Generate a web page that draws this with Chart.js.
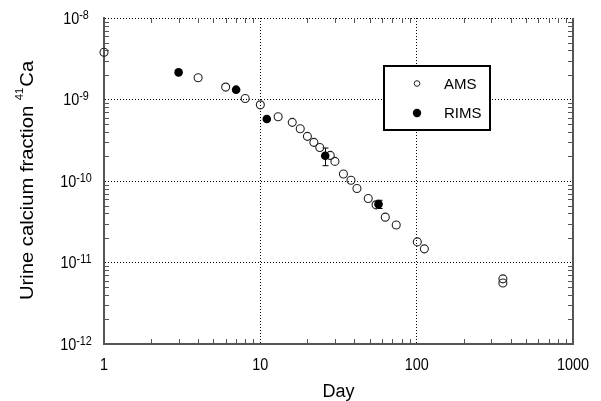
<!DOCTYPE html>
<html><head><meta charset="utf-8">
<script src="https://cdn.jsdelivr.net/npm/chart.js@4"></script>
<style>html,body{margin:0;padding:0;background:#fff;}#wrap{width:601px;height:401px;}</style>
</head><body><div id="wrap"><canvas id="c" width="601" height="401"></canvas></div>
<script>
// ---- data ----
const amsDays = [1, 4, 6, 8, 10, 13, 16, 18, 20, 22, 24, 28, 30, 34, 38, 41.5, 49, 55, 63, 74, 101, 112, 356, 356];
const amsFraction = [3.8e-9, 1.85e-9, 1.42e-9, 1.03e-9, 8.6e-10, 6.15e-10, 5.24e-10, 4.38e-10, 3.53e-10, 2.98e-10, 2.58e-10, 2.06e-10, 1.74e-10, 1.22e-10, 1.02e-10, 8.1e-11, 6.1e-11, 5.1e-11, 3.6e-11, 2.88e-11, 1.79e-11, 1.47e-11, 6.3e-12, 5.6e-12];
const rimsDays = [3, 7, 11, 26, 57];
const rimsFraction = [2.15e-9, 1.32e-9, 5.77e-10, 2.04e-10, 5.2e-11];
const rimsError = [0, 0, 0, 0.5e-10, 0.6e-11];
const seriesNames = ['AMS', 'RIMS'];
const xTickValues = [1, 10, 100, 1000];
const xTickLabels = ['1', '10', '100', '1000'];
const yTickValues = [1e-12, 1e-11, 1e-10, 1e-9, 1e-8];
const yTickBase = '10';
const yTickExponents = ['-12', '-11', '-10', '-9', '-8'];
const minorMultipliers = [2, 3, 4, 5, 6, 7, 8, 9];
const xTitle = 'Day';
const yTitleMain = 'Urine calcium fraction ';
const yTitleSup = '41';
const yTitleEnd = 'Ca';

const FONT = '"Liberation Sans", Arial, sans-serif';
const AXIS = '#555';

function drawText(ctx, s, x, y, size, align, sx) {
  ctx.save();
  ctx.translate(x, y);
  ctx.scale(sx || 1, 1);
  ctx.font = size + 'px ' + FONT;
  ctx.textAlign = align || 'left';
  ctx.textBaseline = 'alphabetic';
  ctx.fillStyle = '#000';
  ctx.fillText(s, 0, 0);
  ctx.restore();
}
function textW(ctx, s, size) {
  ctx.font = size + 'px ' + FONT;
  return ctx.measureText(s).width;
}

const deco = {
  id: 'deco',
  beforeDatasetsDraw(chart) {
    const ctx = chart.ctx, xs = chart.scales.x, ys = chart.scales.y;
    ctx.save();
    ctx.strokeStyle = '#000';
    ctx.lineWidth = 1;
    rimsDays.forEach((d, i) => {
      const e = rimsError[i];
      if (!e) return;
      const px = Math.round(xs.getPixelForValue(d)) + 0.5;
      const top = ys.getPixelForValue(rimsFraction[i] + e);
      const bot = ys.getPixelForValue(rimsFraction[i] - e);
      ctx.beginPath();
      ctx.moveTo(px, top); ctx.lineTo(px, bot);
      ctx.moveTo(px - 3, top); ctx.lineTo(px + 3, top);
      ctx.moveTo(px - 3, bot); ctx.lineTo(px + 3, bot);
      ctx.stroke();
    });
    ctx.restore();
  },
  afterDraw(chart) {
    const ctx = chart.ctx, xs = chart.scales.x, ys = chart.scales.y;
    const a = chart.chartArea;
    ctx.save();
    // right border
    ctx.strokeStyle = AXIS;
    ctx.lineWidth = 2;
    ctx.beginPath();
    ctx.moveTo(a.right, a.top); ctx.lineTo(a.right, a.bottom + 1);
    ctx.stroke();
    // minor ticks
    ctx.lineWidth = 1;
    ctx.beginPath();
    xTickValues.slice(0, -1).forEach(d => minorMultipliers.forEach(m => {
      const px = Math.round(xs.getPixelForValue(d * m)) + 0.5;
      ctx.moveTo(px, a.bottom); ctx.lineTo(px, a.bottom - 5);
      ctx.moveTo(px, a.top); ctx.lineTo(px, a.top + 5);
    }));
    yTickValues.slice(0, -1).forEach(d => minorMultipliers.forEach(m => {
      const py = Math.round(ys.getPixelForValue(d * m)) + 0.5;
      ctx.moveTo(a.left, py); ctx.lineTo(a.left + 5, py);
      ctx.moveTo(a.right, py); ctx.lineTo(a.right - 5, py);
    }));
    ctx.stroke();
    ctx.restore();

    // x tick labels
    xTickValues.forEach((v, i) => {
      drawText(ctx, xTickLabels[i], xs.getPixelForValue(v), a.bottom + 26, 16, 'center', 0.9);
    });
    // y tick labels with superscript
    yTickValues.forEach((v, i) => {
      const py = ys.getPixelForValue(v);
      const w1 = textW(ctx, yTickBase, 16) * 0.9;
      const w2 = textW(ctx, yTickExponents[i], 12) * 0.9;
      const x0 = 76 - (w1 + w2) / 2;
      drawText(ctx, yTickBase, x0, py + 5.5, 16, 'left', 0.9);
      drawText(ctx, yTickExponents[i], x0 + w1, py + 0.5, 12, 'left', 0.9);
    });
    // x title
    drawText(ctx, xTitle, (a.left + a.right) / 2, 396.5, 18, 'center', 1);
    // y title (rotated)
    {
      const wm = textW(ctx, yTitleMain, 18), wsp = textW(ctx, yTitleSup, 10), we = textW(ctx, yTitleEnd, 18);
      const total = wm + wsp + we;
      const sx = 238 / total;
      ctx.save();
      ctx.translate(33.3, (a.top + a.bottom) / 2);
      ctx.rotate(-Math.PI / 2);
      ctx.scale(sx, 1);
      ctx.fillStyle = '#000';
      ctx.textBaseline = 'alphabetic';
      ctx.textAlign = 'left';
      let s = -total / 2;
      ctx.font = '18px ' + FONT; ctx.fillText(yTitleMain, s, 0);
      ctx.font = '10px ' + FONT; ctx.fillText(yTitleSup, s + wm, -10);
      ctx.font = '18px ' + FONT; ctx.fillText(yTitleEnd, s + wm + wsp + 1, 0);
      ctx.restore();
    }
    // legend
    ctx.save();
    ctx.fillStyle = '#fff';
    ctx.fillRect(384, 66, 106, 64);
    ctx.strokeStyle = '#000';
    ctx.lineWidth = 2;
    ctx.strokeRect(384, 66, 106, 64);
    ctx.lineWidth = 1;
    ctx.strokeStyle = '#222';
    ctx.beginPath(); ctx.arc(417, 83.5, 2.8, 0, Math.PI * 2); ctx.stroke();
    ctx.fillStyle = '#000';
    ctx.beginPath(); ctx.arc(417, 113, 4.2, 0, Math.PI * 2); ctx.fill();
    ctx.restore();
    drawText(ctx, seriesNames[0], 444, 88.5, 15, 'left', 1);
    drawText(ctx, seriesNames[1], 444, 118.2, 15, 'left', 1);
  }
};

const gridX = {
  color: c => (c.tick && (c.tick.value === 1 || c.tick.value === 1000)) ? 'rgba(0,0,0,0)' : '#000',
  lineWidth: 1, drawTicks: false
};
const gridY = {
  color: c => (c.tick && c.tick.value === 1e-12) ? 'rgba(0,0,0,0)' : '#000',
  lineWidth: 1, drawTicks: false
};

new Chart(document.getElementById('c'), {
  type: 'scatter',
  data: {
    datasets: [
      {
        label: seriesNames[0],
        data: amsDays.map((d, i) => ({ x: d, y: amsFraction[i] })),
        pointRadius: 4, pointBorderWidth: 1.1, borderColor: '#222',
        backgroundColor: 'rgba(0,0,0,0)', pointBackgroundColor: 'rgba(0,0,0,0)', pointBorderColor: '#222',
        clip: false, order: 1
      },
      {
        label: seriesNames[1],
        data: rimsDays.map((d, i) => ({ x: d, y: rimsFraction[i] })),
        pointRadius: 4.3, pointBorderWidth: 0, borderColor: '#000',
        backgroundColor: '#000', pointBackgroundColor: '#000',
        clip: false, order: 0
      }
    ]
  },
  options: {
    responsive: false, animation: false, devicePixelRatio: 1,
    layout: { padding: { left: 104, top: 18, right: 28, bottom: 57 } },
    plugins: { legend: { display: false }, tooltip: { enabled: false } },
    scales: {
      x: {
        type: 'logarithmic', min: 1, max: 1000,
        afterBuildTicks: s => { s.ticks = xTickValues.map(v => ({ value: v })); },
        ticks: { display: false },
        grid: gridX,
        border: { display: true, color: AXIS, width: 2, dash: [1, 2] },
        title: { display: false }
      },
      y: {
        type: 'logarithmic', min: 1e-12, max: 1e-8,
        afterBuildTicks: s => { s.ticks = yTickValues.map(v => ({ value: v })); },
        ticks: { display: false },
        grid: gridY,
        border: { display: true, color: AXIS, width: 2, dash: [1, 2] },
        title: { display: false }
      }
    }
  },
  plugins: [deco]
});
</script>
</body></html>
